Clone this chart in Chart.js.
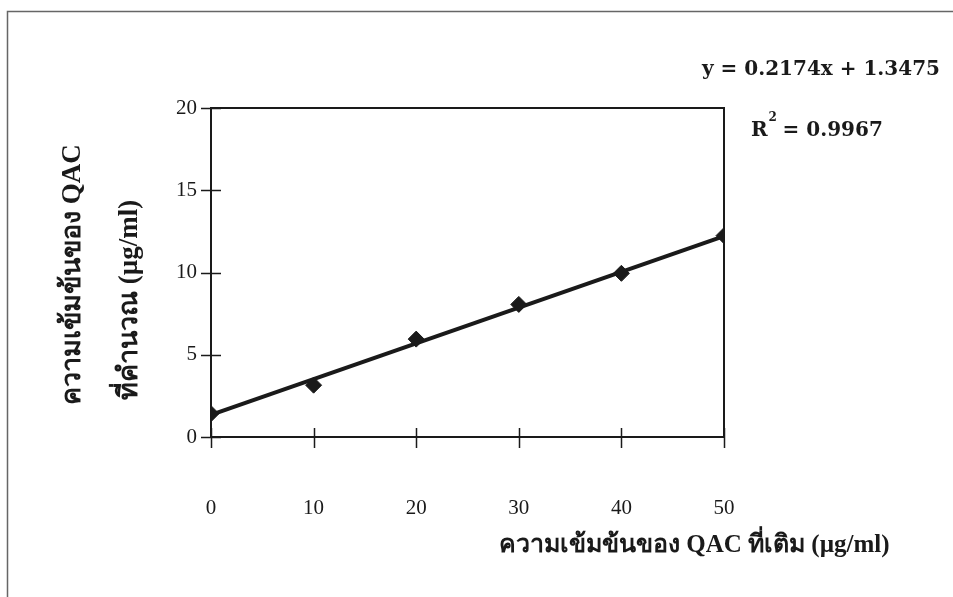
<!DOCTYPE html>
<html>
<head>
<meta charset="utf-8">
<script src="https://cdn.jsdelivr.net/npm/chart.js@4.4.1/dist/chart.umd.min.js"></script>
<style>
  html, body { margin: 0; padding: 0; background: #fff; }
  #wrap { position: relative; width: 953px; height: 597px; }
</style>
</head>
<body>
<div id="wrap"><canvas id="calib"></canvas></div>
<script>
// added QAC concentration (µg/ml) and the calculated concentration
const added = [0, 10, 20, 30, 40, 50];
const calculated = [1.42, 3.15, 5.95, 8.06, 9.95, 12.24];

// linear fit printed on the chart
const slope = 0.2174;
const intercept = 1.3475;
const rSquared = 0.9967;

const xTicks = [0, 10, 20, 30, 40, 50];
const yTicks = [0, 5, 10, 15, 20];

const xTitle = 'ความเข้มข้นของ QAC ที่เติม (µg/ml)';
const yTitle = ['ความเข้มข้นของ QAC', 'ที่คำนวณ (µg/ml)'];

const serif = '"Liberation Serif", "Times New Roman", serif';
const eqFont = '"DejaVu Serif", serif';
const ink = '#1a1a1a';

// crossing tick marks, plot frame, titles and the fit equation
const decor = {
    id: 'decor',
    beforeDraw(chart) {
        const ctx = chart.ctx;
        ctx.save();
        ctx.strokeStyle = '#666';
        ctx.lineWidth = 1.5;
        ctx.beginPath();
        ctx.moveTo(7.5, 597);
        ctx.lineTo(7.5, 11.5);
        ctx.lineTo(953, 11.5);
        ctx.stroke();
        ctx.restore();
    },
    afterDatasetsDraw(chart) {
        const { ctx, chartArea: a, scales } = chart;
        ctx.save();
        ctx.strokeStyle = ink;
        ctx.lineWidth = 2;
        ctx.strokeRect(a.left, a.top, a.right - a.left, a.bottom - a.top);

        ctx.lineWidth = 1.5;
        ctx.beginPath();
        scales.x.ticks.forEach(t => {
            const px = Math.round(scales.x.getPixelForValue(t.value)) + 0.5;
            ctx.moveTo(px, a.bottom - 9);
            ctx.lineTo(px, a.bottom + 11);
        });
        scales.y.ticks.forEach(t => {
            const py = Math.round(scales.y.getPixelForValue(t.value)) + 0.5;
            ctx.moveTo(a.left - 10, py);
            ctx.lineTo(a.left + 10, py);
        });
        ctx.stroke();

        ctx.fillStyle = ink;
        ctx.textBaseline = 'middle';
        ctx.textAlign = 'left';
        ctx.font = 'bold 25px ' + serif;
        ctx.fillText(xTitle, 499, 546);

        ctx.font = 'bold 27px ' + serif;
        ctx.save();
        ctx.translate(73, 405);
        ctx.rotate(-Math.PI / 2);
        ctx.fillText(yTitle[0], 0, 0);
        ctx.restore();
        ctx.save();
        ctx.translate(130, 400);
        ctx.rotate(-Math.PI / 2);
        ctx.fillText(yTitle[1], 0, 0);
        ctx.restore();

        ctx.font = 'bold 20px ' + eqFont;
        ctx.fillText('y = ' + slope + 'x + ' + intercept, 702, 70);
        ctx.fillText('R', 751, 131);
        const rw = ctx.measureText('R').width;
        ctx.font = 'bold 12px ' + eqFont;
        ctx.fillText('2', 751 + rw + 1, 118);
        ctx.font = 'bold 20px ' + eqFont;
        ctx.fillText(' = ' + rSquared, 751 + rw + 8, 131);
        ctx.restore();
    }
};

new Chart(document.getElementById('calib'), {
    type: 'scatter',
    data: {
        datasets: [{
            label: 'measured',
            data: added.map((x, i) => ({ x, y: calculated[i] })),
            pointStyle: 'rectRot',
            pointRadius: 8,
            pointHoverRadius: 8,
            backgroundColor: ink,
            borderColor: ink,
            borderWidth: 1,
            showLine: false,
            order: 1
        }, {
            label: 'fit',
            data: [0, 50].map(x => ({ x, y: slope * x + intercept })),
            showLine: true,
            borderColor: ink,
            borderWidth: 4,
            pointRadius: 0,
            order: 2
        }]
    },
    options: {
        responsive: true,
        maintainAspectRatio: false,
        animation: false,
        layout: { padding: { left: 0, top: 108, right: 229, bottom: 0 } },
        plugins: { legend: { display: false }, tooltip: { enabled: false } },
        scales: {
            x: {
                type: 'linear',
                min: 0, max: 50,
                afterBuildTicks: s => { s.ticks = xTicks.map(v => ({ value: v })); },
                afterFit: s => { s.height = 160; },
                grid: { display: false, drawTicks: false },
                border: { display: false },
                ticks: { color: ink, padding: 59, font: { family: serif, size: 21 } }
            },
            y: {
                type: 'linear',
                min: 0, max: 20,
                afterBuildTicks: s => { s.ticks = yTicks.map(v => ({ value: v })); },
                afterFit: s => { s.width = 211; },
                grid: { display: false, drawTicks: false },
                border: { display: false },
                ticks: { color: ink, padding: 14, font: { family: serif, size: 21 } }
            }
        }
    },
    plugins: [decor]
});
</script>
</body>
</html>
